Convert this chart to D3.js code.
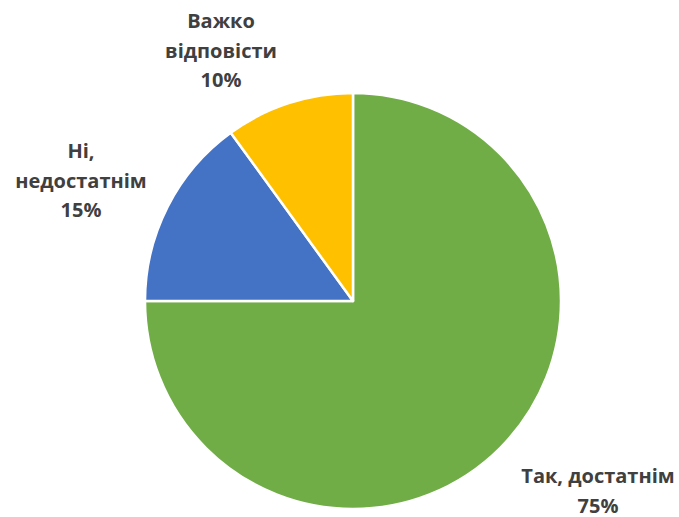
<!DOCTYPE html>
<html><head><meta charset="utf-8">
<script src="https://cdn.jsdelivr.net/npm/d3@7"></script>
<style>html,body{margin:0;padding:0;background:#fff;}svg{display:block;}</style>
</head><body>
<svg id="c" width="679" height="517"></svg>
<script>
const categories = ["Так, достатнім", "Ні, недостатнім", "Важко відповісти"];
const values = [75, 15, 10];
const colors = ["#70AD47", "#4472C4", "#FFC000"];
// label lines (text broken as in the chart)
const labelLines = [["Так, достатнім", "75%"], ["Ні,", "недостатнім", "15%"], ["Важко", "відповісти", "10%"]];

const svg = d3.select("#c");
const cx = 353, cy = 301, r = 208;
const g = svg.append("g").attr("transform", `translate(${cx},${cy})`);
const pie = d3.pie().sort(null).value(d => d)(values);
const arc = d3.arc().innerRadius(0).outerRadius(r);
g.selectAll("path").data(pie).enter().append("path")
  .attr("d", arc).attr("fill", (d, i) => colors[i])
  .attr("stroke", "#fff").attr("stroke-width", 2.5).attr("stroke-linejoin", "round");

// label anchor (first-line baseline, center) relative to pie center
const labelPos = [[245, 182], [-272, -143], [-132, -273]];
const lh = 29.5;
labelLines.forEach((lines, i) => {
  const t = g.append("text").attr("text-anchor", "middle")
    .attr("font-family", "'Open Sans', sans-serif").attr("font-weight", "bold")
    .attr("font-size", 20).attr("fill", "#404040");
  lines.forEach((ln, j) => {
    t.append("tspan").attr("x", labelPos[i][0]).attr("y", labelPos[i][1] + j * lh).text(ln);
  });
});
</script>
</body></html>
